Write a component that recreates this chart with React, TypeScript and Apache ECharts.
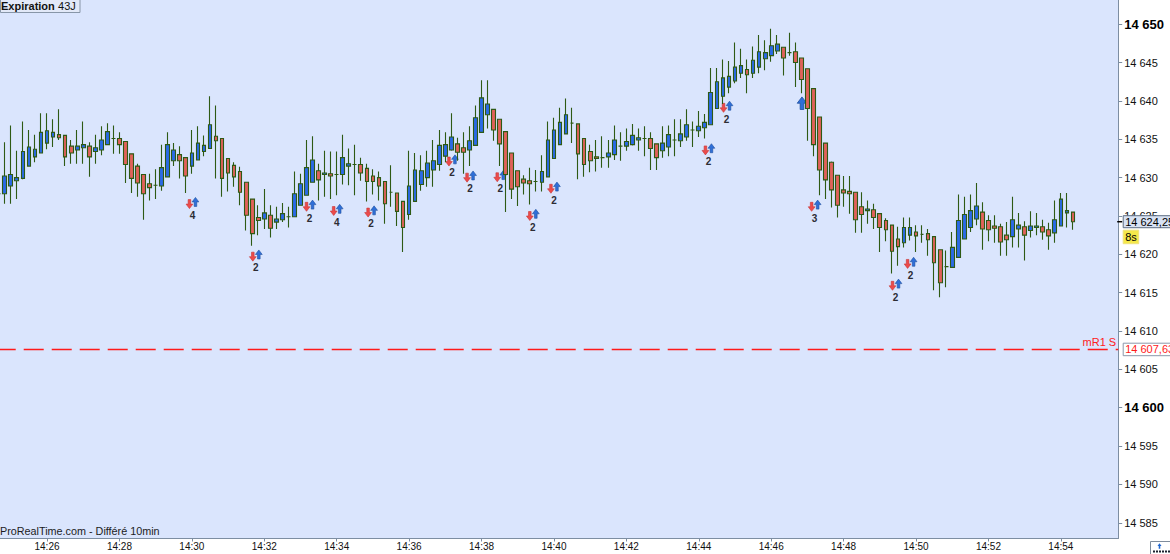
import React, { useEffect, useRef } from 'react';
import * as echarts from 'echarts';

const FONT = "'Liberation Sans', Arial, Helvetica, sans-serif";

// ---- time slots (10-second bars) ----
const startTime = '14:24:40';
const barSeconds = 10;
const slotCount = 186;

// ---- OHLC values ----
const opens = [
  14627.9, 14627.9, 14628.9, 14629.6, 14629.9, 14631.5, 14632.7, 14633.2, 14634.5, 14635.3,
  14635.6, 14635.5, 14634.1, 14633.6, 14633.9, 14634.1, 14633.4, 14633.6, 14634.3, 14635.1,
  14635.1, 14634.7, 14633.1, 14631.5, 14630.4, 14629.2, 14629.0, 14628.9, 14630.1, 14632.2,
  14633.0, 14632.6, 14631.5, 14632.3, 14633.4, 14633.8, 14635.4, 14635.1, 14632.5, 14631.6,
  14630.8, 14629.4, 14627.2, 14624.8, 14624.6, 14625.1, 14624.2, 14624.5, 14624.9, 14624.9,
  14626.4, 14627.7, 14629.4, 14630.9, 14630.4, 14630.5, 14630.4, 14630.4, 14631.5, 14631.7,
  14631.7, 14631.2, 14630.2, 14630.0, 14629.5, 14628.1, 14628.0, 14626.9, 14625.2, 14626.9,
  14629.1, 14630.0, 14631.0, 14631.7, 14632.8, 14633.6, 14634.4, 14633.9, 14633.6, 14634.2,
  14635.9, 14638.2, 14638.9, 14637.6, 14636.0, 14633.2, 14630.9, 14629.8, 14629.6, 14629.5,
  14629.4, 14630.1, 14632.5, 14634.3, 14635.7, 14637.1, 14637.0, 14635.1, 14633.4, 14632.7,
  14632.6, 14632.7, 14633.0, 14634.1, 14634.1, 14634.3, 14634.9, 14635.1, 14635.1, 14634.4,
  14633.5, 14634.0, 14634.9, 14634.8, 14635.3, 14636.2, 14636.1, 14636.5, 14636.9, 14639.0,
  14640.6, 14641.8, 14642.6, 14643.6, 14644.1, 14643.6, 14644.4, 14645.5, 14645.9, 14646.5,
  14647.0, 14646.3, 14646.4, 14645.6, 14644.2, 14641.6, 14637.9, 14634.5, 14632.0, 14630.3,
  14628.4, 14628.2, 14628.1, 14626.2, 14625.7, 14625.8, 14625.3, 14624.4, 14623.8, 14622.0,
  14621.5, 14622.5, 14622.9, 14622.6, 14622.7, 14622.3, 14620.6, 14618.4, 14618.3, 14619.6,
  14622.0, 14623.5, 14624.6, 14625.5, 14624.4, 14623.7, 14623.6, 14622.5, 14622.3, 14623.3,
  14623.6, 14623.1, 14623.5, 14623.6, 14623.2, 14622.8, 14623.7, 14625.4, 14625.5,
];
const closes = [
  14627.9, 14630.2, 14630.4, 14630.0, 14633.4, 14634.0, 14633.7, 14635.9, 14636.1, 14635.9,
  14635.2, 14632.7, 14633.2, 14634.1, 14634.3, 14632.7, 14633.9, 14634.9, 14636.0, 14635.1,
  14634.3, 14631.7, 14629.9, 14629.3, 14627.9, 14628.7, 14629.0, 14631.3, 14634.3, 14633.6,
  14632.2, 14630.2, 14633.2, 14634.5, 14634.2, 14636.9, 14634.8, 14629.9, 14630.6, 14630.1,
  14628.1, 14625.1, 14622.7, 14624.4, 14625.4, 14623.4, 14624.6, 14625.3, 14624.9, 14627.9,
  14629.2, 14631.3, 14632.3, 14629.7, 14630.6, 14630.2, 14630.4, 14632.6, 14631.8, 14631.7,
  14630.6, 14629.5, 14629.5, 14628.9, 14626.6, 14628.1, 14625.6, 14623.5, 14628.9, 14631.0,
  14630.9, 14631.9, 14632.2, 14634.2, 14634.3, 14635.3, 14633.3, 14633.3, 14634.8, 14637.8,
  14640.4, 14639.6, 14636.2, 14634.4, 14630.4, 14628.5, 14628.8, 14629.3, 14629.2, 14629.5,
  14630.8, 14634.9, 14636.2, 14637.2, 14638.2, 14637.1, 14633.1, 14631.7, 14632.2, 14632.5,
  14632.6, 14633.2, 14634.9, 14634.1, 14634.7, 14635.5, 14635.2, 14635.1, 14633.8, 14632.6,
  14634.5, 14635.6, 14634.9, 14635.7, 14636.9, 14636.2, 14636.7, 14637.2, 14641.1, 14642.5,
  14643.0, 14643.2, 14644.4, 14644.6, 14643.4, 14645.3, 14646.4, 14646.3, 14647.2, 14647.4,
  14645.6, 14646.3, 14645.0, 14642.8, 14639.0, 14634.3, 14631.0, 14629.7, 14628.4, 14626.4,
  14628.0, 14627.9, 14624.5, 14625.2, 14625.9, 14624.8, 14623.5, 14623.2, 14620.4, 14621.0,
  14623.5, 14623.5, 14622.4, 14622.6, 14621.9, 14618.9, 14616.3, 14618.4, 14620.9, 14624.4,
  14625.2, 14625.7, 14626.3, 14623.3, 14623.2, 14623.4, 14621.6, 14621.9, 14624.5, 14623.8,
  14622.5, 14623.7, 14623.7, 14622.9, 14622.4, 14624.5, 14627.2, 14625.7, 14624.25,
];
const lows = [
  14627.7, 14626.6, 14626.6, 14627.2, 14629.8, 14631.4, 14632.0, 14633.2, 14633.7, 14634.0,
  14634.9, 14631.5, 14631.8, 14631.8, 14631.8, 14630.1, 14631.8, 14632.9, 14634.3, 14633.1,
  14633.1, 14629.3, 14628.0, 14627.5, 14624.5, 14627.0, 14627.2, 14628.3, 14630.1, 14631.5,
  14629.9, 14628.0, 14630.5, 14632.3, 14632.8, 14633.8, 14629.9, 14627.5, 14628.2, 14628.8,
  14626.4, 14623.1, 14621.1, 14622.5, 14623.3, 14622.2, 14623.3, 14624.2, 14623.5, 14624.9,
  14626.4, 14627.7, 14629.4, 14627.0, 14627.5, 14627.2, 14627.7, 14629.1, 14629.0, 14627.7,
  14629.6, 14626.9, 14627.8, 14627.0, 14624.0, 14626.2, 14623.7, 14620.3, 14624.5, 14626.9,
  14628.3, 14628.8, 14628.8, 14630.9, 14632.0, 14633.5, 14632.2, 14630.5, 14631.5, 14634.2,
  14635.9, 14636.4, 14634.8, 14631.5, 14625.5, 14627.2, 14626.3, 14627.8, 14626.5, 14628.2,
  14628.2, 14630.1, 14632.5, 14634.3, 14635.7, 14634.5, 14629.8, 14630.1, 14630.7, 14630.8,
  14631.3, 14631.3, 14632.3, 14632.2, 14633.5, 14634.2, 14633.5, 14632.8, 14631.0, 14631.0,
  14632.6, 14632.8, 14632.8, 14634.0, 14634.8, 14634.0, 14635.3, 14635.1, 14636.9, 14639.0,
  14639.6, 14641.0, 14642.3, 14643.0, 14641.0, 14643.0, 14643.6, 14644.0, 14645.1, 14646.1,
  14643.3, 14645.9, 14641.8, 14641.0, 14634.8, 14632.8, 14627.7, 14627.2, 14626.1, 14624.8,
  14626.2, 14625.3, 14622.8, 14622.8, 14624.0, 14623.3, 14620.3, 14621.7, 14617.5, 14618.5,
  14620.9, 14621.8, 14620.3, 14621.5, 14619.8, 14615.3, 14614.4, 14615.7, 14618.3, 14619.6,
  14622.0, 14622.9, 14623.8, 14620.6, 14621.7, 14621.5, 14619.8, 14619.8, 14620.9, 14620.9,
  14619.2, 14622.2, 14622.5, 14621.9, 14620.6, 14621.5, 14623.7, 14623.5, 14623.2,
];
const highs = [
  14628.1, 14634.6, 14636.8, 14633.5, 14637.3, 14636.2, 14635.6, 14638.4, 14638.4, 14637.6,
  14638.9, 14635.5, 14634.9, 14636.2, 14637.3, 14634.6, 14635.6, 14636.7, 14637.1, 14636.8,
  14635.9, 14634.7, 14633.1, 14631.8, 14630.4, 14630.5, 14631.1, 14634.3, 14635.9, 14634.5,
  14634.1, 14632.7, 14636.2, 14636.7, 14635.5, 14640.6, 14639.4, 14635.1, 14632.5, 14632.0,
  14631.4, 14629.4, 14627.2, 14626.4, 14628.5, 14626.4, 14626.2, 14626.7, 14626.2, 14630.8,
  14630.5, 14634.9, 14635.4, 14631.8, 14633.5, 14633.4, 14633.4, 14635.6, 14633.8, 14634.3,
  14632.6, 14631.8, 14631.1, 14630.8, 14629.5, 14631.6, 14628.0, 14626.9, 14633.5, 14633.2,
  14632.9, 14633.5, 14634.9, 14636.2, 14635.9, 14638.4, 14635.2, 14635.9, 14636.7, 14639.4,
  14642.7, 14642.7, 14638.9, 14637.6, 14636.0, 14633.2, 14630.9, 14630.3, 14631.3, 14631.0,
  14632.9, 14637.3, 14637.8, 14639.1, 14640.3, 14639.1, 14637.0, 14635.1, 14634.3, 14634.9,
  14635.4, 14634.9, 14636.8, 14635.9, 14636.4, 14637.0, 14636.4, 14636.7, 14635.9, 14634.4,
  14636.7, 14636.8, 14637.6, 14637.6, 14638.9, 14637.3, 14638.7, 14638.3, 14644.3, 14644.3,
  14645.4, 14645.2, 14647.6, 14646.8, 14645.4, 14647.1, 14648.6, 14647.9, 14649.4, 14648.6,
  14647.0, 14648.9, 14647.6, 14645.6, 14644.2, 14641.6, 14637.9, 14634.5, 14632.1, 14630.3,
  14630.2, 14630.2, 14628.1, 14628.1, 14627.0, 14626.6, 14625.3, 14624.7, 14623.8, 14623.6,
  14624.8, 14624.8, 14623.8, 14623.8, 14623.3, 14622.3, 14620.6, 14620.5, 14622.9, 14627.8,
  14627.5, 14627.8, 14629.3, 14626.8, 14625.1, 14625.1, 14624.0, 14624.2, 14627.5, 14625.4,
  14624.3, 14625.6, 14625.4, 14624.5, 14624.1, 14627.0, 14628.0, 14628.0, 14625.5,
];

// ---- signal annotations (bar position, price level, count) ----
const annIdx = [32.1, 42.6, 51.5, 56.0, 61.7, 75.1, 78.1, 83.1, 88.5, 92.0, 117.6, 120.6, 135.2, 148.6, 151.1];
const annPrice = [14626.7, 14619.85, 14626.35, 14625.8, 14625.6, 14632.25, 14630.15, 14630.2, 14625.15, 14628.7, 14633.7, 14639.25, 14626.35, 14616.05, 14618.9];
const annCount = [4, 2, 2, 4, 2, 2, 2, 2, 2, 2, 2, 2, 3, 2, 2];
const bigArrowIdx = [133.1];
const bigArrowPrice = [14639.7];

// ---- levels ----
const currentPrice = 14624.25;
const r1Price = 14607.63;
const r1Name = 'mR1 S';
const countdown = '8s';
const yMin = 14582.95;
const yMax = 14653.155;

// the chart canvas starts OFF px left of the page so that the first bar can sit half outside
const OFF = 10;

const pad = (n: number) => String(n).padStart(2, '0');
function makeCategories(): string[] {
  const [h, m, s] = startTime.split(':').map(Number);
  const t0 = h * 3600 + m * 60 + s;
  const out: string[] = [];
  for (let i = 0; i < slotCount; i++) {
    const t = t0 + i * barSeconds;
    out.push(`${pad(Math.floor(t / 3600))}:${pad(Math.floor((t % 3600) / 60))}:${pad(t % 60)}`);
  }
  return out;
}

const fmtPrice = (v: number, d = 0) => {
  const [ip, dp] = v.toFixed(d).split('.');
  const ii = ip.replace(/\B(?=(\d{3})+(?!\d))/g, ' ');
  return dp ? `${ii},${dp}` : ii;
};

const downArrow = (cx: number, cy: number, s = 1) => [
  [cx - 1.3 * s, cy - 4.5 * s], [cx + 1.3 * s, cy - 4.5 * s], [cx + 1.3 * s, cy],
  [cx + 3.4 * s, cy], [cx, cy + 4.5 * s], [cx - 3.4 * s, cy], [cx - 1.3 * s, cy],
];
const upArrow = (cx: number, cy: number, s = 1) => [
  [cx - 1.3 * s, cy + 4.5 * s], [cx + 1.3 * s, cy + 4.5 * s], [cx + 1.3 * s, cy],
  [cx + 3.4 * s, cy], [cx, cy - 4.5 * s], [cx - 3.4 * s, cy], [cx - 1.3 * s, cy],
];

const isLabelSlot = (_i: number, v: string) => {
  const parts = v.split(':');
  return parts[2] === '00' && Number(parts[1]) % 2 === 0;
};

export default function App() {
  const ref = useRef<HTMLDivElement>(null);
  useEffect(() => {
    if (!ref.current) return;
    const chart = echarts.init(ref.current, undefined, { renderer: 'svg' });
    const categories = makeCategories();
    const candles = opens.map((o, i) => [o, closes[i], lows[i], highs[i]]);

    const option: any = {
      animation: false,
      backgroundColor: '#ffffff',
      textStyle: { fontFamily: FONT },
      grid: {
        left: OFF - 4.28, right: 51.8, top: 0, bottom: 15.5,
        show: true, backgroundColor: '#dae5fd', borderWidth: 0,
      },
      xAxis: {
        type: 'category',
        data: categories,
        boundaryGap: true,
        axisLine: { show: true, lineStyle: { color: '#7d8ea2', width: 1 } },
        axisTick: { show: true, interval: isLabelSlot, alignWithLabel: true, length: 3, lineStyle: { color: '#7d8ea2' } },
        axisLabel: {
          interval: isLabelSlot,
          formatter: (v: string) => v.slice(0, 5),
          color: '#111', fontSize: 10, margin: 3, fontFamily: FONT,
        },
        splitLine: { show: false },
      },
      yAxis: {
        type: 'value',
        position: 'right',
        min: yMin,
        max: yMax,
        splitNumber: 14,
        scale: true,
        axisLine: { show: true, lineStyle: { color: '#7d8ea2', width: 1 } },
        axisTick: { show: true, length: 4, lineStyle: { color: '#7d8ea2' } },
        splitLine: { show: false },
        axisLabel: {
          showMinLabel: false,
          showMaxLabel: false,
          margin: 6,
          formatter: (v: number) => {
            if (Math.abs(v / 5 - Math.round(v / 5)) > 1e-6) return '';
            const s = fmtPrice(v);
            return Math.round(v) % 50 === 0 ? `{b|${s}}` : `{n|${s}}`;
          },
          rich: {
            b: { fontSize: 13, fontWeight: 'bold', color: '#000', fontFamily: FONT },
            n: { fontSize: 11, color: '#111', fontFamily: FONT },
          },
        },
      },
      series: [
        {
          type: 'candlestick',
          data: candles,
          barWidth: 4.2,
          itemStyle: {
            color: '#2b6ae6',
            color0: '#e0625a',
            borderColor: '#2e5a14',
            borderColor0: '#2e5a14',
            borderWidth: 1.1,
          },
          markLine: {
            symbol: ['none', 'none'],
            silent: true,
            animation: false,
            data: [{ yAxis: r1Price }],
            lineStyle: { color: '#ff1a1a', width: 1.3, type: [20, 8] },
            label: {
              show: true,
              position: 'insideEndTop',
              formatter: r1Name,
              color: '#ff2020',
              fontSize: 11,
              fontFamily: FONT,
              distance: 2,
            },
          },
        },
        {
          type: 'custom',
          data: annIdx.map((v, k) => [Math.floor(v), annPrice[k], k]),
          renderItem: (_p: any, api: any) => {
            const k = api.value(2);
            const idx = annIdx[k];
            const base = api.coord([Math.floor(idx), annPrice[k]]);
            const band = api.size([1, 0])[0];
            const x = base[0] + (idx - Math.floor(idx)) * band;
            const y = base[1];
            return {
              type: 'group',
              children: [
                { type: 'polygon', shape: { points: downArrow(x - 3, y + 1.2) }, style: { fill: '#ec4b4b', stroke: '#c83434', lineWidth: 0.6 } },
                { type: 'polygon', shape: { points: upArrow(x + 3, y - 1) }, style: { fill: '#2f6fd8', stroke: '#1e4f9e', lineWidth: 0.6 } },
                {
                  type: 'text', x, y: y + 12.5,
                  style: { text: String(annCount[k]), fill: '#2c2c34', font: `bold 10px ${FONT}`, align: 'center', verticalAlign: 'middle' },
                },
              ],
            };
          },
        },
        {
          type: 'custom',
          data: bigArrowIdx.map((v, k) => [Math.floor(v), bigArrowPrice[k], k]),
          renderItem: (_p: any, api: any) => {
            const k = api.value(2);
            const idx = bigArrowIdx[k];
            const base = api.coord([Math.floor(idx), bigArrowPrice[k]]);
            const band = api.size([1, 0])[0];
            const x = base[0] + (idx - Math.floor(idx)) * band;
            return {
              type: 'polygon',
              shape: { points: upArrow(x, base[1], 1.4) },
              style: { fill: '#2f6fd8', stroke: '#1e4f9e', lineWidth: 0.8 },
            };
          },
        },
      ],
    };
    chart.setOption(option);

    const yCur = chart.convertToPixel({ yAxisIndex: 0 }, currentPrice) as number;
    const yR1 = chart.convertToPixel({ yAxisIndex: 0 }, r1Price) as number;
    const lastX = chart.convertToPixel({ xAxisIndex: 0 }, slotCount - 1) as number;
    const band = (chart.convertToPixel({ xAxisIndex: 0 }, 1) as number) - (chart.convertToPixel({ xAxisIndex: 0 }, 0) as number);
    const axisX = lastX + band / 2;
    const gx = axisX + 5;

    chart.setOption({
      graphic: [
        // current price tick + box
        { type: 'line', z: 100, shape: { x1: axisX - 1, y1: yCur, x2: axisX + 4, y2: yCur }, style: { stroke: '#000', lineWidth: 1.5 } },
        { type: 'rect', z: 100, shape: { x: gx, y: yCur - 6, width: 52, height: 12 }, style: { fill: '#d8e2f3', stroke: '#5d6d82', lineWidth: 1 } },
        { type: 'text', z: 101, x: gx + 2, y: yCur, style: { text: fmtPrice(currentPrice, 2), fill: '#000', font: `11px ${FONT}`, verticalAlign: 'middle' } },
        { type: 'rect', z: 100, shape: { x: gx, y: yCur + 8.5, width: 15.5, height: 13.5 }, style: { fill: '#f5e84a', stroke: '#efe27a', lineWidth: 1 } },
        { type: 'text', z: 101, x: gx + 2, y: yCur + 15.5, style: { text: countdown, fill: '#000', font: `11px ${FONT}`, verticalAlign: 'middle' } },
        // R1 price box
        { type: 'rect', z: 100, shape: { x: gx, y: yR1 - 6, width: 52, height: 12.5 }, style: { fill: '#ffffff', stroke: '#8b98aa', lineWidth: 1 } },
        { type: 'text', z: 101, x: gx + 2, y: yR1 + 0.3, style: { text: fmtPrice(r1Price, 2), fill: '#ff1a1a', font: `11px ${FONT}`, verticalAlign: 'middle' } },
        // expiration box
        { type: 'rect', z: 100, shape: { x: OFF + 0.5, y: -1, width: 79.5, height: 13.5 }, style: { fill: '#e2e9f8', stroke: '#8796a8', lineWidth: 1 } },
        {
          type: 'text', z: 101, x: OFF + 1, y: 5.5,
          style: {
            text: '{b|Expiration} {n|43J}',
            verticalAlign: 'middle',
            rich: {
              b: { font: `bold 11px ${FONT}`, fill: '#111' },
              n: { font: `11px ${FONT}`, fill: '#111' },
            },
          },
        },
        // watermark
        { type: 'text', z: 101, x: OFF, y: 531, style: { text: 'ProRealTime.com - Différé 10min', fill: '#1c1c1c', font: `10.8px ${FONT}`, verticalAlign: 'middle' } },
        // bottom-right icon
        { type: 'rect', z: 100, shape: { x: OFF + 1150.5, y: 541.5, width: 22, height: 14 }, style: { fill: '#ffffff', stroke: '#7f8c9c', lineWidth: 1 } },
        { type: 'polygon', z: 101, shape: { points: upArrow(OFF + 1159.5, 546, 0.6) }, style: { fill: '#1f66d0' } },
        { type: 'line', z: 101, shape: { x1: OFF + 1153, y1: 551.5, x2: OFF + 1170, y2: 551.5 }, style: { stroke: '#1b2230', lineWidth: 2, lineDash: [2, 1] } },
      ],
    });

    return () => chart.dispose();
  }, []);

  return (
    <div
      ref={ref}
      style={{ position: 'absolute', left: -OFF, top: 0, width: 1170 + OFF, height: 554, background: '#fff' }}
    />
  );
}
